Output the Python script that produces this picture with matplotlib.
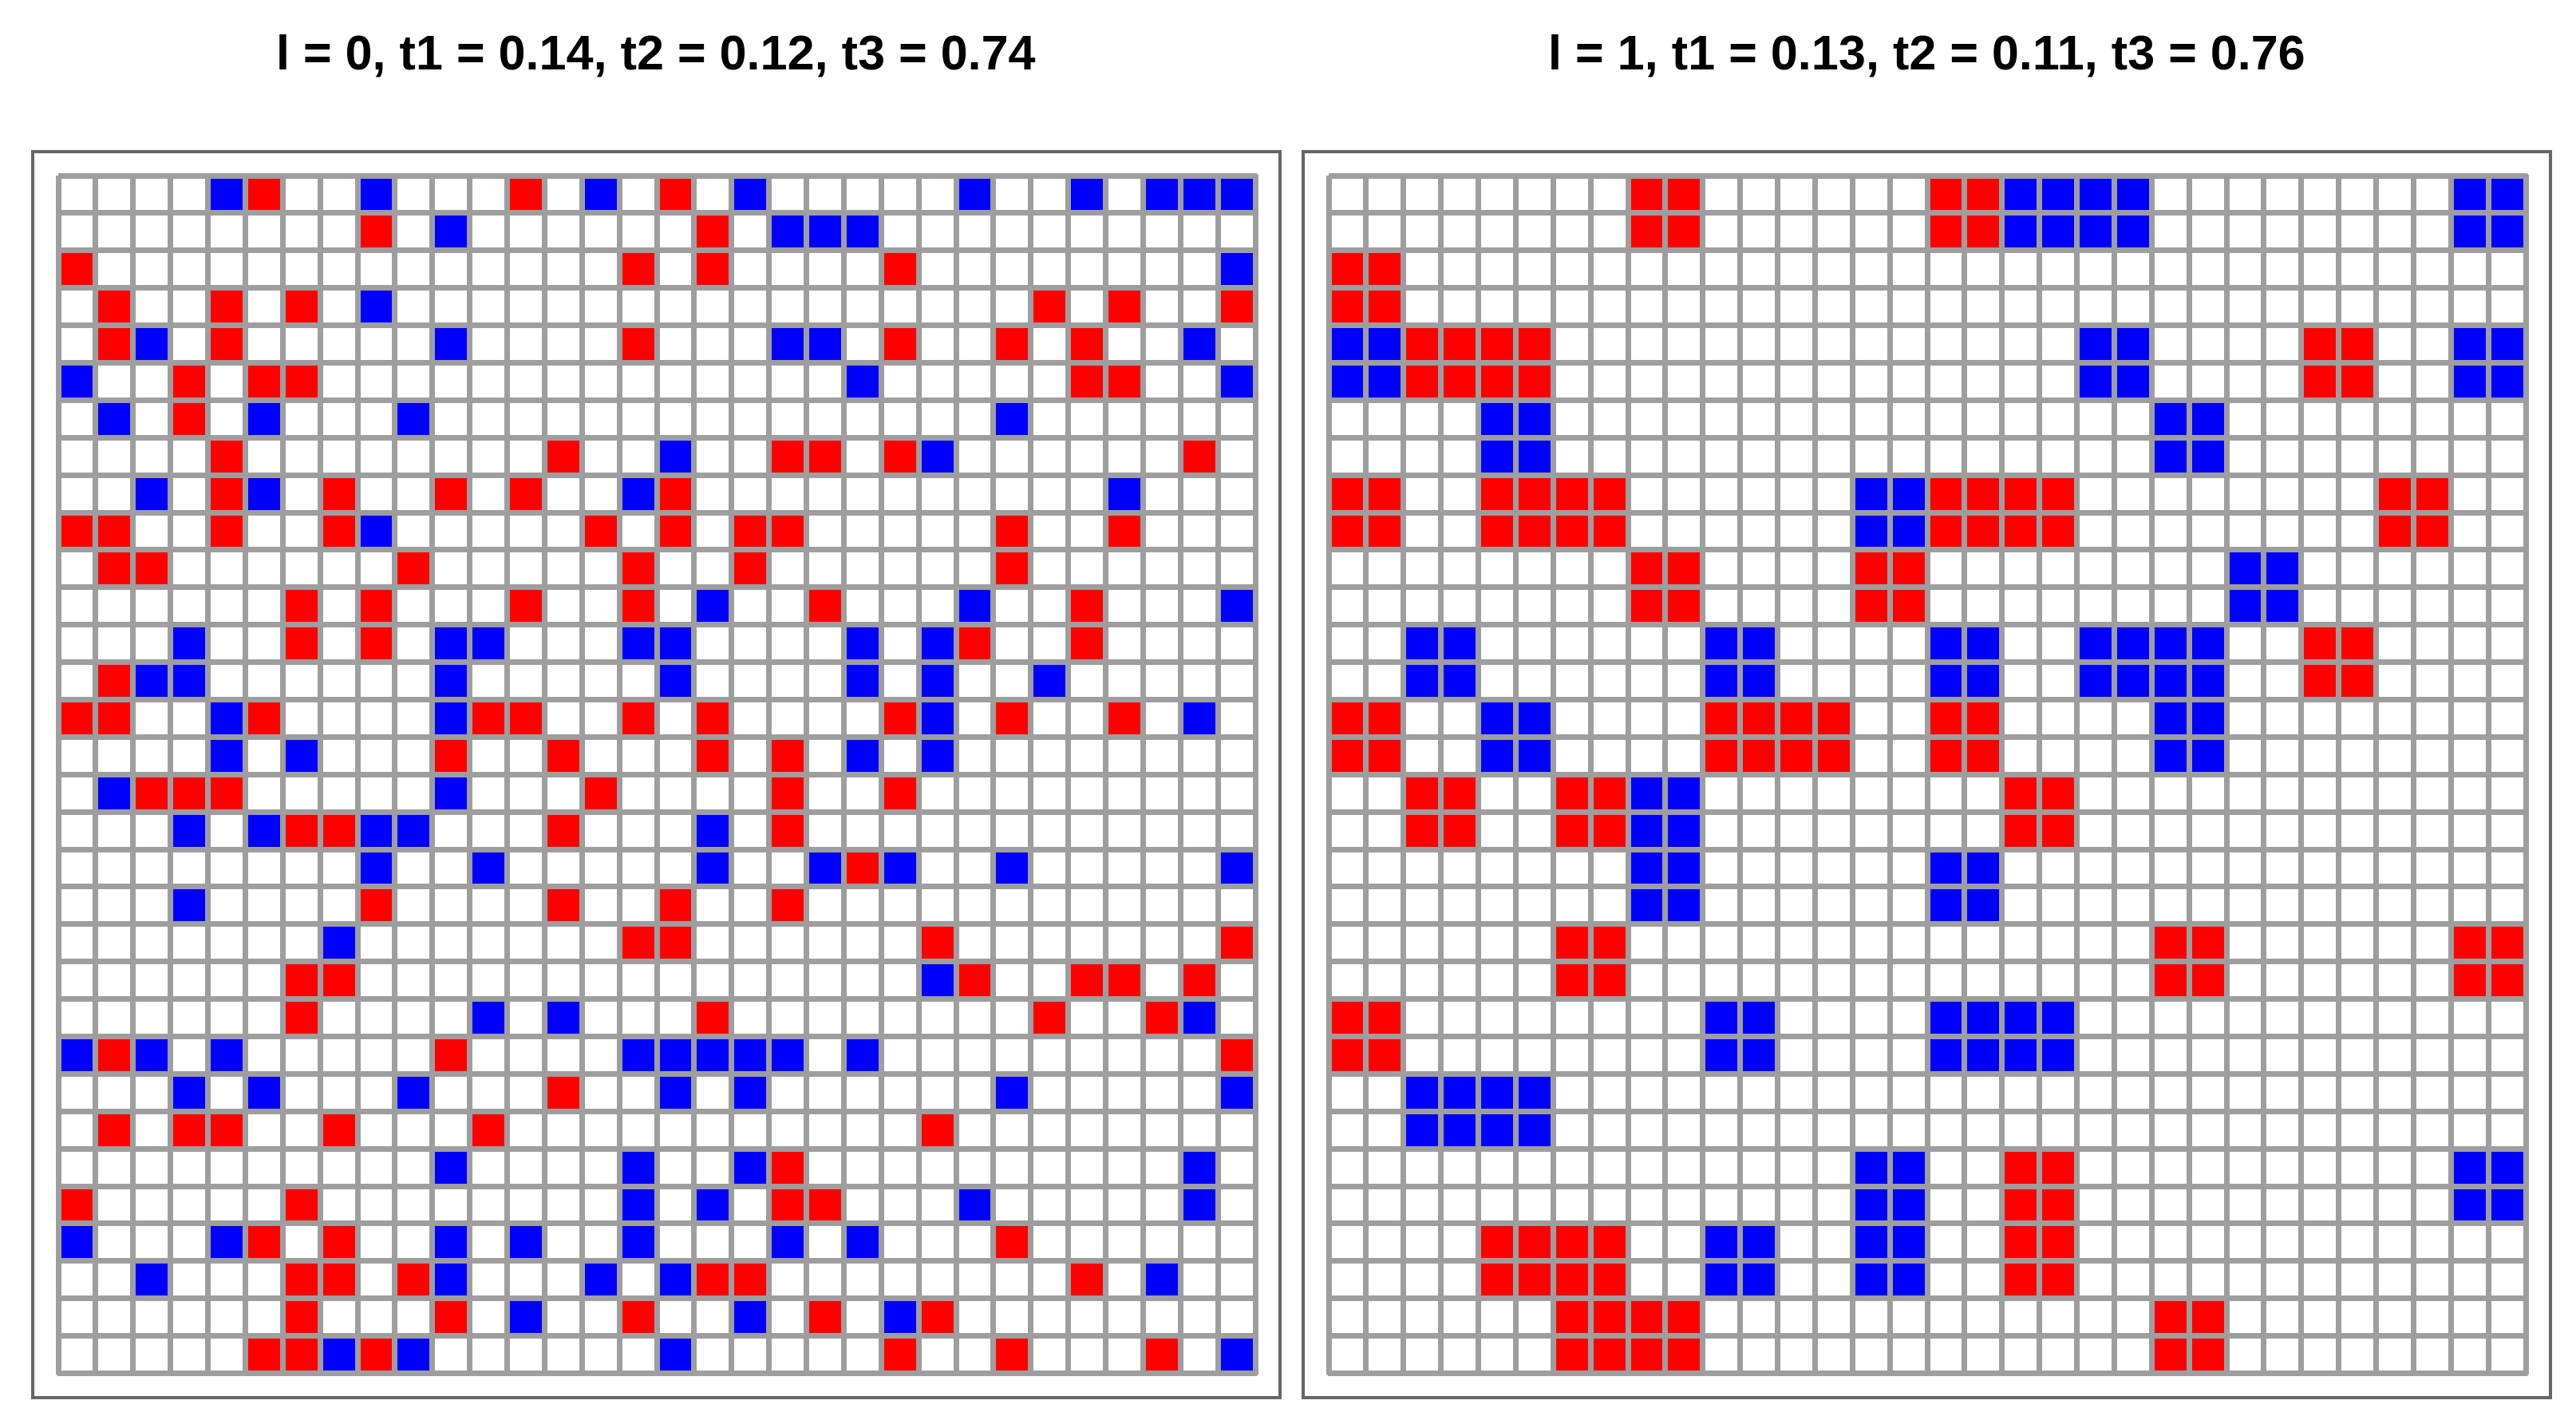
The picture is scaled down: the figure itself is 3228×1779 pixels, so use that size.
import numpy as np
import matplotlib
matplotlib.use('Agg')
import matplotlib.pyplot as plt
from matplotlib.colors import ListedColormap
from matplotlib.patches import Rectangle

titles = ['l = 0, t1 = 0.14, t2 = 0.12, t3 = 0.74',
          'l = 1, t1 = 0.13, t2 = 0.11, t3 = 0.76']

# l = 0 : column indices of red / blue cells, one list per row (top to bottom)
red_l0 = [
    [5, 12, 16],
    [8, 17],
    [0, 15, 17, 22],
    [1, 4, 6, 26, 28, 31],
    [1, 4, 15, 22, 25, 27],
    [3, 5, 6, 27, 28],
    [3],
    [4, 13, 19, 20, 22, 30],
    [4, 7, 10, 12, 16],
    [0, 1, 4, 7, 14, 16, 18, 19, 25, 28],
    [1, 2, 9, 15, 18, 25],
    [6, 8, 12, 15, 20, 27],
    [6, 8, 24, 27],
    [1],
    [0, 1, 5, 11, 12, 15, 17, 22, 25, 28],
    [10, 13, 17, 19],
    [2, 3, 4, 14, 19, 22],
    [6, 7, 13, 19],
    [21],
    [8, 13, 16, 19],
    [15, 16, 23, 31],
    [6, 7, 24, 27, 28, 30],
    [6, 17, 26, 29],
    [1, 10, 31],
    [13],
    [1, 3, 4, 7, 11, 23],
    [19],
    [0, 6, 19, 20],
    [5, 7, 25],
    [6, 7, 9, 17, 18, 27],
    [6, 10, 15, 20, 23],
    [5, 6, 8, 22, 25, 29],
]
blue_l0 = [
    [4, 8, 14, 18, 24, 27, 29, 30, 31],
    [10, 19, 20, 21],
    [31],
    [8],
    [2, 10, 19, 20, 30],
    [0, 21, 31],
    [1, 5, 9, 25],
    [16, 23],
    [2, 5, 15, 28],
    [8],
    [],
    [17, 24, 31],
    [3, 10, 11, 15, 16, 21, 23],
    [2, 3, 10, 16, 21, 23, 26],
    [4, 10, 23, 30],
    [4, 6, 21, 23],
    [1, 10],
    [3, 5, 8, 9, 17],
    [8, 11, 17, 20, 22, 25, 31],
    [3],
    [7],
    [23],
    [11, 13, 30],
    [0, 2, 4, 15, 16, 17, 18, 19, 21],
    [3, 5, 9, 16, 18, 25, 31],
    [],
    [10, 15, 18, 30],
    [15, 17, 24, 30],
    [0, 4, 10, 12, 15, 19, 21],
    [2, 10, 14, 16, 29],
    [12, 18, 22],
    [7, 9, 16, 31],
]

# l = 1 : 16x16 blocks, each block covers 2x2 cells
red_l1 = [
    [4, 8], [0], [1, 2, 13], [], [0, 2, 3, 8, 9, 14], [4, 7], [13],
    [0, 5, 6, 8], [1, 3, 9], [], [3, 11, 15], [0], [], [9], [2, 3, 9],
    [3, 4, 11],
]
blue_l1 = [
    [9, 10, 15], [], [0, 10, 15], [2, 11], [7], [12], [1, 5, 8, 10, 11],
    [2, 11], [4], [4, 8], [], [5, 8, 9], [1, 2], [7, 15], [5, 7], [],
]


def to_grid(red, blue, n):
    g = np.zeros((n, n), dtype=int)
    for r, cols in enumerate(red):
        g[r, np.array(cols, dtype=int)] = 1
    for r, cols in enumerate(blue):
        g[r, np.array(cols, dtype=int)] = 2
    return g


grid0 = to_grid(red_l0, blue_l0, 32)
grid1 = to_grid(red_l1, blue_l1, 16)
grid1 = np.repeat(np.repeat(grid1, 2, axis=0), 2, axis=1)

W, H = 3228, 1779
fig = plt.figure(figsize=(W / 100, H / 100), dpi=100)
cmap = ListedColormap(['white', '#ff0000', '#0000ff'])

grid_left = [72.5, 1664.5]
frame_left = [41, 1633.5]
grid_top, grid_size = 219.5, 1500.5
frame_top, frame_w, frame_h = 190, 1562.5, 1560.5

for i, grid in enumerate([grid0, grid1]):
    ax = fig.add_axes([grid_left[i] / W, (H - grid_top - grid_size) / H,
                       1500 / W, grid_size / H])
    mesh = ax.pcolormesh(grid, cmap=cmap, vmin=0, vmax=2,
                         edgecolors='#9e9e9e', linewidth=3.8)
    mesh.set_clip_on(False)
    ax.set_xlim(0, 32)
    ax.set_ylim(32, 0)
    ax.axis('off')

    fig.patches.append(Rectangle((frame_left[i] / W, (H - frame_top - frame_h) / H),
                                 frame_w / W, frame_h / H, transform=fig.transFigure,
                                 fill=False, edgecolor='#666666', linewidth=2.9))

    fig.text((frame_left[i] + frame_w / 2) / W, 1 - 87 / H, titles[i],
             ha='center', va='baseline', fontsize=44, fontweight='bold',
             family=['Liberation Sans', 'DejaVu Sans'])

fig.savefig('out.png', dpi=100, facecolor='white')
